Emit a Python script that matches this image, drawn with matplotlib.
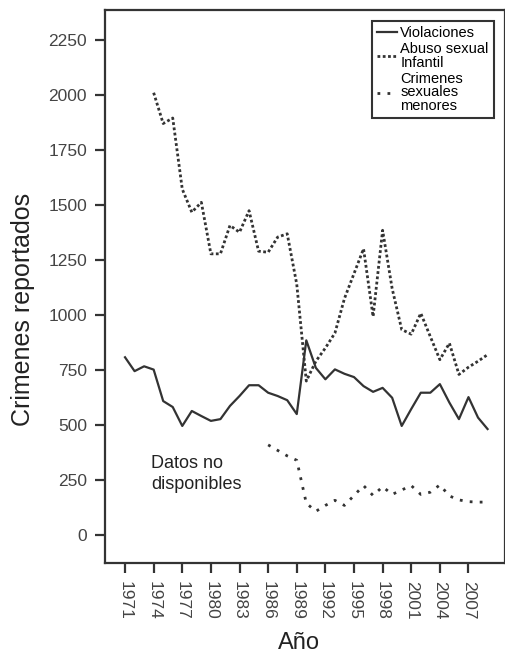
import numpy as np
import matplotlib
matplotlib.use('Agg')
import matplotlib.pyplot as plt

plt.rcParams['font.family'] = ['Liberation Sans', 'DejaVu Sans']

# valores
anios_viol = list(range(1971, 2010))
violaciones = [808, 745, 767, 752, 609, 582, 496, 564, 541, 519,
               527, 587, 632, 681, 681, 647, 632, 613, 550, 885,
               760, 708, 753, 733, 718, 677, 651, 669, 624, 496,
               573, 647, 647, 686, 602, 527, 627, 534, 482]

anios_abuso = list(range(1974, 2010))
abuso = [2010, 1870, 1895, 1572, 1467, 1512, 1278, 1278, 1407, 1376,
         1474, 1290, 1285, 1354, 1369, 1140, 700, 790, 850, 918,
         1075, 1188, 1301, 993, 1385, 1120, 934, 913, 1008, 902,
         797, 872, 730, 763, 790, 820]

anios_men = list(range(1986, 2010))
menores = [410, 385, 360, 340, 145, 108, 135, 158, 135, 180,
           225, 180, 220, 185, 205, 225, 185, 195, 228, 178,
           160, 152, 150, 150]

xticks = list(range(1971, 2010, 3))
yticks = [0, 250, 500, 750, 1000, 1250, 1500, 1750, 2000, 2250]

col = '#333333'

fig = plt.figure(figsize=(5.06, 6.64), dpi=100)
ax = fig.add_axes([0.2075, 0.152, 0.79, 0.833])

ax.plot(anios_viol, violaciones, color=col, lw=1.6, label='Violaciones')
ax.plot(anios_abuso, abuso, color=col, lw=2.0, linestyle=(0, (1, 0.9)),
        label='Abuso sexual\nInfantil')
ax.plot(anios_men, menores, color=col, lw=2.0, linestyle=(0, (1, 2.6)),
        label='Crimenes\nsexuales\nmenores')

ax.text(1973.7, 362, 'Datos no\ndisponibles', fontsize=13, color='#222222',
        ha='left', va='top', linespacing=1.3)

ax.set_xlim(1968.9, 2010.8)
ax.set_ylim(-127, 2386)
ax.set_xticks(xticks)
ax.set_xticklabels([str(t) for t in xticks], rotation=270, fontsize=12.5,
                   color='#444444')
ax.set_yticks(yticks)
ax.set_yticklabels([str(t) for t in yticks], fontsize=12.5, color='#444444')
ax.tick_params(axis='both', direction='out', length=7, width=1.6, color=col, pad=6)

for s in ax.spines.values():
    s.set_linewidth(1.6)
    s.set_color(col)

ax.set_ylabel('Crimenes reportados', fontsize=18, color='#222222')
ax.set_xlabel('Año', fontsize=17, color='#222222')
ax.yaxis.set_label_coords(-0.175, 0.459)
ax.xaxis.set_label_coords(0.485, -0.125)

leg = ax.legend(loc='upper right', fontsize=10.5, handlelength=1.4,
                handletextpad=0.2, borderaxespad=0.75, borderpad=0.35,
                labelspacing=0.15, fancybox=False, framealpha=1)
leg.get_frame().set_edgecolor(col)
leg.get_frame().set_linewidth(1.5)
for t in leg.get_texts():
    t.set_linespacing(0.95)

fig.savefig('out.png', dpi=100)
